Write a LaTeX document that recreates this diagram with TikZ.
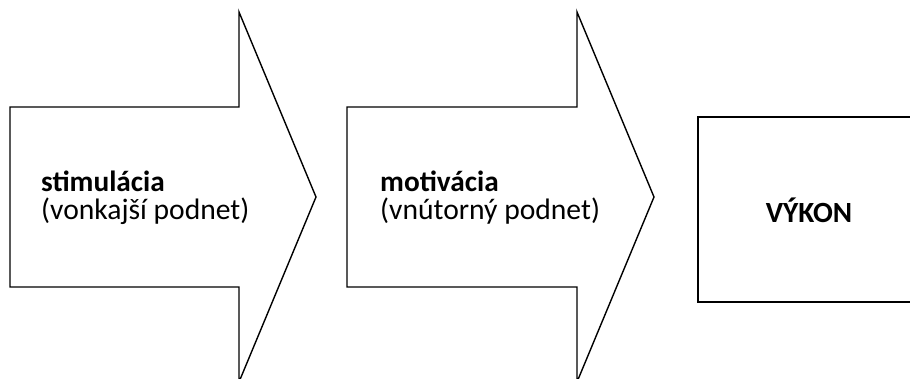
\documentclass[tikz,border=0pt]{standalone}
\usepackage{fontspec}
\setmainfont{Carlito}
\begin{document}
\begin{tikzpicture}[x=1pt,y=-1pt,
  shapeline/.style={draw=black,line width=1.4pt,line join=miter,fill=white},
  label/.style={inner sep=0pt,anchor=base west,font=\fontsize{29.6}{31}\selectfont},
  title/.style={label,font=\fontsize{29.3}{31}\selectfont\bfseries}]
\clip (0,0) rectangle (910,379);
\fill[white] (0,0) rectangle (910,379);
% first block arrow
\draw[shapeline] (10,107) -- (239,107) -- (239,12) -- (316,197) -- (239,382)
  -- (239,287) -- (10,287) -- cycle;
% second block arrow
\draw[shapeline] (347,107) -- (577,107) -- (577,12) -- (654,197) -- (577,382)
  -- (577,287) -- (347,287) -- cycle;
% result box
\draw[shapeline] (698,117) rectangle (920,302);
\node[title] (stim) at (41,192) {stimulácia};
\node[label] (stimsub) at (41,220) {(vonkajší podnet)};
\node[title] (mot) at (380,192) {motivácia};
\node[label] (motsub) at (380,220) {(vnútorný podnet)};
\node[inner sep=0pt,anchor=base,font=\fontsize{29.3}{31}\selectfont\bfseries] (vykon) at (809,223) {VÝKON};
\end{tikzpicture}
\end{document}
